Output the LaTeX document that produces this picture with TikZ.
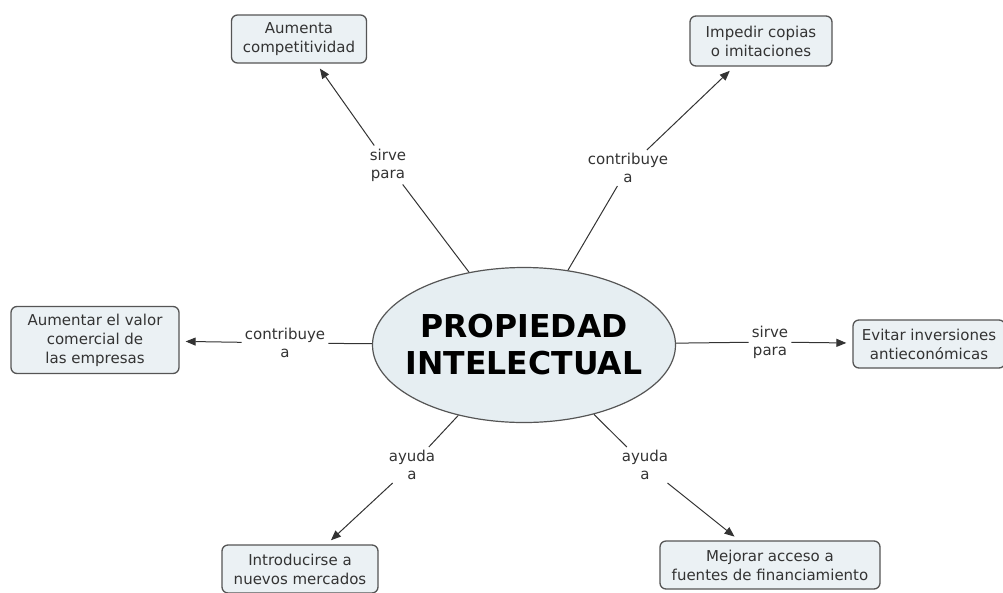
\documentclass[tikz,border=0pt]{standalone}
\usepackage{fontspec}
\setmainfont{DejaVu Sans}
\usetikzlibrary{shapes.geometric,arrows.meta}
\definecolor{boxfill}{HTML}{EBF1F4}
\definecolor{ellfill}{HTML}{E6EEF2}
\definecolor{boxline}{HTML}{555555}
\definecolor{txt}{HTML}{333333}
\tikzset{
  concept/.style={draw=boxline, line width=1.3pt, fill=boxfill, rounded corners=6pt,
    align=center, font=\fontsize{15}{19}\selectfont, text=txt, inner sep=0pt},
  main/.style={ellipse, draw=boxline, line width=1.2pt, fill=ellfill, inner xsep=-14pt, inner ysep=0pt,
    minimum width=303pt, minimum height=155pt, align=center,
    font=\fontsize{31.5}{37}\selectfont\bfseries, text=black},
  lab/.style={align=center, font=\fontsize{15}{18}\selectfont, text=txt, inner sep=3pt},
  link/.style={draw=black!80, line width=1pt},
  arr/.style={link, -{Triangle[length=10pt,width=8pt]}, shorten >=6pt}
}
\begin{document}
\begin{tikzpicture}[x=1pt,y=-1pt]
\useasboundingbox (0,0) rectangle (1003,592);
\clip (0,0) rectangle (1003,592);
\node[main] (C) at (524,345) {PROPIEDAD\\INTELECTUAL};

\node[concept, minimum width=135pt, minimum height=48pt] (b1) at (299,39) {Aumenta\\competitividad};
\node[concept, minimum width=142pt, minimum height=50pt] (b2) at (761,41) {Impedir copias\\o imitaciones};
\node[concept, minimum width=168pt, minimum height=67pt] (b3) at (95,340) {Aumentar el valor\\comercial de\\las empresas};
\node[concept, minimum width=152pt, minimum height=48pt] (b4) at (929,344) {Evitar inversiones\\antieconómicas};
\node[concept, minimum width=156pt, minimum height=48pt] (b5) at (300,569) {Introducirse a\\nuevos mercados};
\node[concept, minimum width=220pt, minimum height=48pt] (b6) at (770,565) {Mejorar acceso a\\fuentes de financiamiento};

\node[lab] (l1) at (388,165) {sirve\\para};
\node[lab] (l2) at (628,168) {contribuye\\a};
\node[lab] (l3) at (285,343) {contribuye\\a};
\node[lab] (l4) at (770,342) {sirve\\para};
\node[lab] (l5) at (412,465) {ayuda\\a};
\node[lab] (l6) at (645,465) {ayuda\\a};

\draw[link] (C) -- (l1);
\draw[arr] (l1) -- (b1);
\draw[link] (C) -- (l2);
\draw[arr] (l2) -- (b2);
\draw[link] (C) -- (l3);
\draw[arr] (l3) -- (b3);
\draw[link] (C) -- (l4);
\draw[arr] (l4) -- (b4);
\draw[link] (C) -- (l5);
\draw[arr] (l5) -- (b5);
\draw[link] (C) -- (l6);
\draw[arr] (l6) -- (b6);
\end{tikzpicture}
\end{document}
